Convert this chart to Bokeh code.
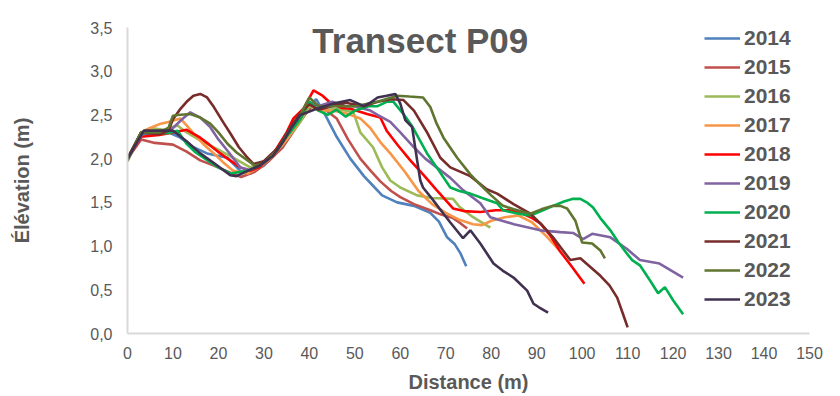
from bokeh.plotting import figure
from bokeh.models import Range1d, FixedTicker, Legend, LegendItem, Label
from bokeh.embed import file_html
from bokeh.resources import INLINE

years = ["2014", "2015", "2016", "2017", "2018", "2019", "2020", "2021", "2022", "2023"]
colors = ["#4F81BD", "#C0504D", "#9BBB59", "#F79646", "#FF0000",
          "#8064A2", "#00B050", "#772C2A", "#5F7530", "#403151"]

x2014 = [0, 3, 6, 9, 11.6, 14.5, 17.5, 22, 24.8, 27, 30, 33, 36, 38, 40, 41.5, 43, 46, 49, 52, 54, 56, 59.3, 63, 66.6, 68.5, 70.3, 72, 73.2, 74.5]
y2014 = [2.0, 2.28, 2.28, 2.3, 2.24, 2.13, 2.06, 2.01, 1.86, 1.83, 1.92, 2.08, 2.3, 2.45, 2.6, 2.68, 2.55, 2.25, 2.0, 1.8, 1.69, 1.58, 1.5, 1.46, 1.38, 1.28, 1.1, 1.02, 0.92, 0.77]

x2015 = [0, 3, 6, 10, 13, 16, 19, 23, 25, 28, 31, 34, 37, 39, 41, 43, 46, 48.5, 51.2, 53.5, 55.6, 58, 60, 63, 66.6, 69, 71.6, 73, 74.7]
y2015 = [2.0, 2.22, 2.18, 2.16, 2.08, 1.98, 1.92, 1.83, 1.79, 1.85, 1.97, 2.12, 2.35, 2.5, 2.63, 2.58, 2.46, 2.22, 2.0, 1.86, 1.74, 1.63, 1.56, 1.48, 1.41, 1.36, 1.32, 1.27, 1.2]

x2016 = [0, 3, 5, 8, 11, 13, 16, 20.4, 23.3, 27, 30, 34, 38, 40, 43, 46, 49.7, 51.2, 54, 56, 57.8, 60, 63.7, 67, 71.6, 73, 76, 79.8]
y2016 = [2.0, 2.3, 2.35, 2.33, 2.38, 2.3, 2.21, 2.09, 2.01, 1.9, 1.97, 2.15, 2.42, 2.6, 2.55, 2.57, 2.53, 2.3, 2.13, 1.9, 1.75, 1.67, 1.58, 1.55, 1.54, 1.45, 1.33, 1.21]

x2017 = [0, 3, 5, 7.3, 9, 11.6, 13, 14.5, 17, 19, 21, 23.3, 26.4, 29, 32, 35, 38, 40, 42, 45, 48, 51.2, 53.4, 55.6, 57.8, 61, 64, 67, 70, 73, 76, 78, 80, 83, 86, 89, 92, 95]
y2017 = [2.0, 2.3, 2.35, 2.4, 2.42, 2.46, 2.38, 2.29, 2.15, 2.06, 1.96, 1.86, 1.83, 1.9, 2.03, 2.22, 2.45, 2.62, 2.55, 2.55, 2.52, 2.46, 2.35, 2.19, 2.06, 1.85, 1.63, 1.48, 1.38, 1.3, 1.25, 1.24, 1.29, 1.33, 1.35, 1.27, 1.12, 0.95]

x2018 = [0, 3, 7, 10, 13, 16, 18, 20.4, 22, 24.8, 27, 29, 32, 35, 36.5, 38.7, 40.9, 42.9, 44.6, 47, 49, 52.7, 55.6, 57, 59.5, 62.2, 65, 68, 71.6, 74, 77.6, 81, 84, 87, 89, 90.8, 93, 95, 97.5, 100.5]
y2018 = [2.0, 2.25, 2.27, 2.3, 2.33, 2.24, 2.16, 2.06, 2.0, 1.9, 1.86, 1.9, 2.05, 2.3, 2.46, 2.57, 2.78, 2.72, 2.64, 2.58, 2.57, 2.51, 2.47, 2.32, 2.15, 1.98, 1.82, 1.64, 1.43, 1.4, 1.39, 1.41, 1.41, 1.37, 1.32, 1.26, 1.12, 0.95, 0.78, 0.57]

x2019 = [0, 3.5, 8, 10, 12, 13.8, 16, 18.2, 20, 22, 24.8, 27, 30, 33, 36, 38, 40, 42, 45, 48, 50, 53.4, 55, 57.8, 60, 63, 65.5, 68, 71, 73.8, 77.6, 79.8, 85, 90.8, 95.2, 98, 100.2, 102.2, 106.2, 109.8, 112.7, 117, 122.2]
y2019 = [2.0, 2.3, 2.3, 2.35, 2.45, 2.53, 2.47, 2.36, 2.22, 2.09, 1.9, 1.87, 1.95, 2.1, 2.35, 2.5, 2.65, 2.6, 2.65, 2.6, 2.6, 2.55, 2.5, 2.42, 2.3, 2.13, 2.0, 1.9, 1.78, 1.64, 1.49, 1.33, 1.25, 1.18, 1.16, 1.15, 1.08, 1.14, 1.1, 0.97, 0.84, 0.8, 0.64]

x2020 = [0, 3, 5, 8.8, 11, 13, 15, 17.6, 20, 22.6, 26.4, 29, 32, 35, 38, 40, 42, 44, 46, 48, 50, 53, 55, 57, 58.5, 60.7, 62.5, 64.4, 66, 68, 71, 73, 75.4, 78, 81.3, 82.6, 85, 88.6, 91, 93.6, 96, 98, 99.6, 101, 102.4, 104, 106.2, 108, 109.9, 111, 112.7, 115, 116.7, 118.2, 120, 122.2]
y2020 = [2.0, 2.3, 2.3, 2.29, 2.32, 2.17, 2.07, 1.98, 1.9, 1.83, 1.86, 1.92, 2.05, 2.25, 2.45, 2.65, 2.55, 2.5, 2.56, 2.48, 2.55, 2.6, 2.6, 2.65, 2.65, 2.51, 2.38, 2.2, 2.05, 1.9, 1.67, 1.63, 1.6, 1.55, 1.49, 1.41, 1.38, 1.35, 1.4, 1.46, 1.51, 1.54, 1.54, 1.5, 1.44, 1.32, 1.18, 1.04, 0.91, 0.84, 0.78, 0.6, 0.46, 0.53, 0.38, 0.22]

x2021 = [0, 3, 7, 9, 10, 11.5, 13, 14.5, 16, 17.5, 19, 21, 22.6, 24.5, 26.4, 27.7, 30, 33, 36, 38, 40, 42, 45, 48, 52, 55, 58, 60.7, 63, 66, 68.8, 71, 75.4, 79, 81.3, 84.9, 88.6, 91, 93.6, 95.5, 97.4, 99.6, 101.8, 104, 106, 107.7, 109, 110]
y2021 = [2.0, 2.3, 2.28, 2.32, 2.45, 2.56, 2.65, 2.72, 2.74, 2.7, 2.59, 2.42, 2.29, 2.13, 2.01, 1.94, 1.97, 2.12, 2.37, 2.52, 2.62, 2.56, 2.6, 2.64, 2.6, 2.65, 2.68, 2.67, 2.55, 2.29, 2.01, 1.9, 1.8, 1.65, 1.6, 1.48, 1.37, 1.25, 1.1, 0.97, 0.84, 0.86, 0.76, 0.66, 0.55, 0.41, 0.22, 0.07]

x2022 = [0, 3, 7, 9, 10, 11, 13.8, 16, 18.2, 20, 22, 24, 26.4, 28, 30, 33, 36, 38, 40, 42, 45, 50, 55, 59.3, 62, 65, 66.6, 68, 69.5, 72.5, 75.4, 78, 80, 82.6, 85, 88.6, 91, 93.6, 95.2, 96.7, 98.5, 100, 102.2, 104, 105]
y2022 = [1.97, 2.3, 2.3, 2.35, 2.49, 2.5, 2.51, 2.47, 2.4, 2.3, 2.17, 2.07, 1.98, 1.92, 1.95, 2.1, 2.35, 2.5, 2.7, 2.6, 2.6, 2.6, 2.65, 2.72, 2.71, 2.7, 2.59, 2.4, 2.24, 2.01, 1.82, 1.68, 1.58, 1.46, 1.42, 1.37, 1.42, 1.46, 1.46, 1.43, 1.29, 1.04, 1.03, 0.95, 0.86]

x2023 = [0, 3.6, 7, 10, 13, 16, 19, 22.6, 24, 26.4, 29, 32, 34.3, 36, 38, 41, 45.3, 49, 52, 53.4, 55, 57, 58.9, 60, 61.1, 62.6, 63.7, 64.4, 65, 67.3, 69.5, 71, 73.8, 75.4, 77.6, 80.5, 82.5, 84.9, 87.9, 89.3, 90.5, 92.5]
y2023 = [2.0, 2.32, 2.32, 2.32, 2.2, 2.06, 1.95, 1.81, 1.8, 1.86, 1.92, 2.03, 2.2, 2.35, 2.5, 2.56, 2.63, 2.67, 2.6, 2.64, 2.7, 2.72, 2.74, 2.63, 2.44, 2.36, 1.98, 1.75, 1.67, 1.52, 1.37, 1.27, 1.09, 1.18, 1.03, 0.8, 0.72, 0.64, 0.49, 0.34, 0.3, 0.24]

xs = [x2014, x2015, x2016, x2017, x2018, x2019, x2020, x2021, x2022, x2023]
ys = [y2014, y2015, y2016, y2017, y2018, y2019, y2020, y2021, y2022, y2023]

x_ticks = list(range(0, 151, 10))
y_ticks = [0, 0.5, 1.0, 1.5, 2.0, 2.5, 3.0, 3.5]
y_tick_labels = ["0,0", "0,5", "1,0", "1,5", "2,0", "2,5", "3,0", "3,5"]

FONT = "Liberation Sans"
GREY = "#595959"

p = figure(width=840, height=396, output_backend="svg", toolbar_location=None,
           x_range=Range1d(0, 150), y_range=Range1d(0, 3.5),
           min_border_left=127, min_border_right=31, min_border_top=27, min_border_bottom=63)
p.outline_line_color = None
p.xgrid.visible = False
p.ygrid.visible = False

items = []
for yr, c, xv, yv in zip(years, colors, xs, ys):
    r = p.line(xv, yv, line_color=c, line_width=2.6)
    items.append(LegendItem(label=yr, renderers=[r]))

for ax in (p.xaxis[0], p.yaxis[0]):
    ax.axis_line_color = "#D9D9D9"
    ax.axis_line_width = 2
    ax.major_tick_line_color = None
    ax.minor_tick_line_color = None
    ax.major_tick_out = 0
    ax.major_tick_in = 0
    ax.minor_tick_out = 0
    ax.major_label_text_font = FONT
    ax.major_label_text_font_size = "16px"
    ax.major_label_text_color = GREY
    ax.axis_label_text_font = FONT
    ax.axis_label_text_font_size = "20px"
    ax.axis_label_text_font_style = "bold"
    ax.axis_label_text_color = GREY

p.xaxis[0].ticker = FixedTicker(ticks=x_ticks)
p.yaxis[0].ticker = FixedTicker(ticks=y_ticks)
p.yaxis[0].major_label_overrides = {t: l for t, l in zip(y_ticks, y_tick_labels)}
p.xaxis[0].axis_label = "Distance (m)"
p.yaxis[0].axis_label = "Élévation (m)"
p.xaxis[0].major_label_standoff = 13
p.yaxis[0].major_label_standoff = 15
p.xaxis[0].axis_label_standoff = 9
p.yaxis[0].axis_label_standoff = 54

legend = Legend(items=items, location=(577, 22), orientation="vertical",
                border_line_color=None, background_fill_alpha=0,
                label_text_font=FONT, label_text_font_size="21px",
                label_text_font_style="bold", label_text_color=GREY,
                glyph_width=36, glyph_height=20, label_height=20,
                label_standoff=4, spacing=5, padding=5, margin=0)
p.add_layout(legend)

title = Label(x=64.4, y=3.35, text="Transect P09", text_font=FONT,
              text_font_size="35px", text_font_style="bold", text_color=GREY,
              text_align="center", text_baseline="middle")
p.add_layout(title)

open("out.html", "w").write(file_html(p, INLINE))
